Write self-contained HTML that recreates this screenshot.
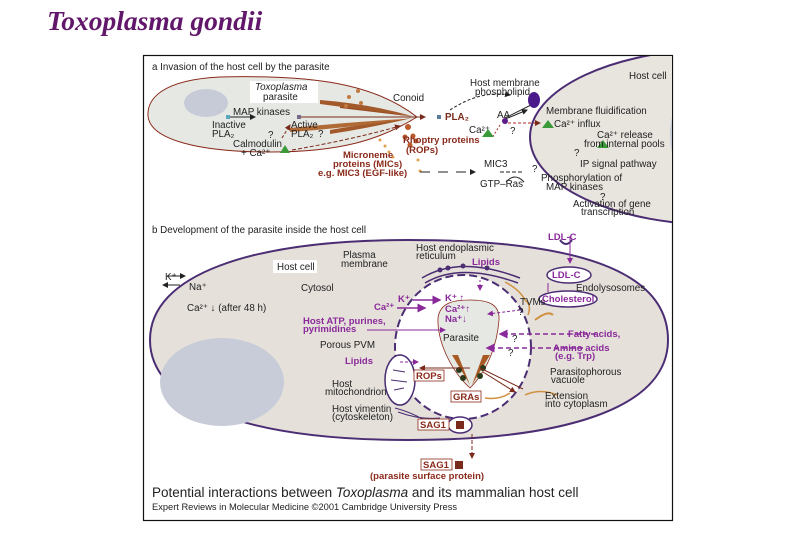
<!DOCTYPE html>
<html><head><meta charset="utf-8"><style>
html,body{margin:0;padding:0;background:#fff;}
svg{display:block;}
text{font-family:"Liberation Sans",sans-serif;}
</style></head><body>
<svg width="810" height="540" viewBox="0 0 810 540" xmlns="http://www.w3.org/2000/svg">
<defs>
<marker id="ab" markerWidth="6" markerHeight="6" refX="5" refY="3" orient="auto"><path d="M0,0L6,3L0,6z" fill="#222"/></marker>
<marker id="ar" markerWidth="6" markerHeight="6" refX="5" refY="3" orient="auto"><path d="M0,0L6,3L0,6z" fill="#7a2a1a"/></marker>
<marker id="ap" markerWidth="6" markerHeight="6" refX="5" refY="3" orient="auto"><path d="M0,0L6,3L0,6z" fill="#8a2a9a"/></marker>
<clipPath id="fc"><rect x="144" y="56" width="528" height="464"/></clipPath>
</defs>
<text x="47" y="30" font-style="italic" font-weight="bold" font-size="27.5" fill="#62186a" style="font-family:'Liberation Serif',serif">Toxoplasma gondii</text>
<rect x="143.5" y="55.5" width="529" height="465" fill="#fff" stroke="#111" stroke-width="1.2"/>
<g clip-path="url(#fc)">
<ellipse cx="720" cy="137" rx="190" ry="88" fill="#e8e4de" stroke="#4b2d73" stroke-width="2"/>
<ellipse cx="690" cy="135" rx="20" ry="40" fill="#c7cbd6"/>
<path d="M417,117 C370,80 300,75 220,77 C160,80 147,100 148,116 C150,140 200,152 270,152 C340,152 380,140 417,117Z" fill="#e6e8e4" stroke="#8a2a1a" stroke-width="1"/>
<ellipse cx="206" cy="103" rx="22" ry="14" fill="#c7cbd8"/>
<path d="M340,104 L415,117 L340,108Z" fill="#9a4a20"/>
<path d="M320,100 Q370,104 412,116 Q365,110 320,104Z" fill="#a25a2a"/>
<path d="M330,130 Q370,123 412,118 Q370,128 330,134Z" fill="#a25a2a"/>
<path d="M290,128 Q350,122 405,119 Q350,128 290,132Z" fill="#b06a35"/>
<g fill="#c07a40"><circle cx="349" cy="97" r="2"/><circle cx="358" cy="91" r="2"/><circle cx="346" cy="106" r="2"/><circle cx="361" cy="103" r="2"/></g>
<g fill="#b85a2a"><circle cx="408" cy="127" r="3"/><circle cx="405" cy="137" r="2.5"/><circle cx="413" cy="136" r="2.5"/><circle cx="410" cy="145" r="2.5"/><circle cx="416" cy="141" r="2.5"/></g>
<g fill="#e0a050"><circle cx="380" cy="140" r="1.5"/><circle cx="385" cy="146" r="1.5"/><circle cx="389" cy="152" r="1.5"/><circle cx="393" cy="157" r="1.5"/><circle cx="418" cy="160" r="1.5"/><circle cx="420" cy="171" r="1.5"/></g>
<line x1="228" y1="117" x2="255" y2="117" stroke="#222" marker-end="url(#ab)"/>
<line x1="300" y1="117" x2="425" y2="117" stroke="#7a2a1a" marker-end="url(#ar)"/>
<rect x="226" y="115" width="4" height="4" fill="#5aa8c0"/>
<rect x="297" y="115" width="4" height="4" fill="#7a6a8a"/>
<rect x="437" y="115" width="4" height="4" fill="#5a7a9a"/>
<path d="M282,138 L290,125" stroke="#7a2a1a" stroke-dasharray="3,2" fill="none" marker-end="url(#ar)"/>
<path d="M292,150 Q350,140 400,126" stroke="#7a2a1a" stroke-dasharray="4,2" fill="none" marker-end="url(#ar)"/>
<polygon points="280,153 285,145 290,153" fill="#3a9a3a"/>
<path d="M450,110 Q480,90 510,95" stroke="#222" stroke-dasharray="3,2" fill="none" marker-end="url(#ab)"/>
<path d="M503,120 L527,110" stroke="#222" marker-end="url(#ab)"/>
<path d="M505,118 L535,103" stroke="#222"/>
<ellipse cx="534" cy="100" rx="6" ry="8" fill="#4a1a8a"/>
<circle cx="505" cy="121" r="3" fill="#5a1a8a"/>
<path d="M508,123 L540,123" stroke="#b02a2a" stroke-dasharray="3,2" marker-end="url(#ar)"/>
<path d="M500,125 L492,138" stroke="#b02a2a" stroke-dasharray="2,2"/>
<polygon points="482,137 488,129 494,137" fill="#3a9a3a"/>
<polygon points="542,128 548,120 554,128" fill="#3a9a3a"/>
<polygon points="597,148 603,140 609,148" fill="#3a9a3a"/>
<line x1="420" y1="172" x2="475" y2="172" stroke="#222" stroke-dasharray="10,8" marker-end="url(#ab)"/>
<line x1="500" y1="172" x2="524" y2="172" stroke="#222" stroke-dasharray="4,2"/>
<path d="M506,182 Q515,172 524,182" stroke="#222" fill="none"/>
<g font-size="9.8" fill="#222">
<text x="152" y="70">a  Invasion of the host cell by the parasite</text>
<rect x="250" y="81" width="68" height="22" fill="#fff"/>
<text x="255" y="90" font-style="italic">Toxoplasma</text>
<text x="263" y="100">parasite</text>
<text x="393" y="101">Conoid</text>
<text x="233" y="115">MAP kinases</text>
<text x="212" y="128">Inactive</text>
<text x="212" y="137">PLA₂</text>
<text x="291" y="128">Active</text>
<text x="291" y="137">PLA₂</text>
<text x="268" y="138">?</text>
<text x="318" y="137">?</text>
<text x="233" y="147">Calmodulin</text>
<text x="241" y="156">+ Ca²⁺</text>
<text x="445" y="120" fill="#7a2a1a" font-weight="bold">PLA₂</text>
<text x="470" y="86">Host membrane</text>
<text x="475" y="95">phospholipid</text>
<text x="497" y="118">AA</text>
<text x="469" y="133">Ca²⁺</text>
<text x="510" y="134">?</text>
<text x="629" y="79">Host cell</text>
<text x="546" y="114">Membrane fluidification</text>
<text x="554" y="127">Ca²⁺ influx</text>
<text x="597" y="138">Ca²⁺ release</text>
<text x="584" y="147">from internal pools</text>
<text x="574" y="156">?</text>
<text x="580" y="167">IP signal pathway</text>
<text x="484" y="167">MIC3</text>
<text x="532" y="172">?</text>
<text x="480" y="187">GTP–Ras</text>
<text x="541" y="181">Phosphorylation of</text>
<text x="546" y="190">MAP kinases</text>
<text x="600" y="200">?</text>
<text x="573" y="207">Activation of gene</text>
<text x="581" y="215">transcription</text>
</g>
<g font-size="9.5" fill="#8a2a1a" font-weight="bold">
<text x="403" y="143">Rhoptry proteins</text>
<text x="406" y="153">(ROPs)</text>
<text x="343" y="158">Microneme</text>
<text x="333" y="167">proteins (MICs)</text>
<text x="318" y="176">e.g. MIC3 (EGF-like)</text>
</g>
<text x="152" y="233" font-size="9.8" fill="#222">b  Development of the parasite inside the host cell</text>
<path d="M408,240 C600,240 668,280 668,340 C668,410 560,440 408,440 C250,440 150,405 150,340 C150,275 250,240 408,240Z" fill="#e5e0da" stroke="#4b2d73" stroke-width="2"/>
<ellipse cx="222" cy="382" rx="62" ry="44" fill="#c8ccd8"/>
<ellipse cx="463" cy="347" rx="68" ry="72" fill="#fff" stroke="#4b2d73" stroke-width="2" stroke-dasharray="8,4"/>
<path d="M470,388 C450,370 437,340 438,318 C440,302 455,300 470,300 C488,300 500,304 499,320 C497,345 488,370 470,388Z" fill="#e6e8e4" stroke="#8a2a1a" stroke-width="0.8"/>
<path d="M452,355 L470,385 L458,355Z" fill="#a85a25"/>
<path d="M490,355 L472,385 L483,355Z" fill="#a85a25"/>
<g fill="#2a3a1a"><circle cx="459" cy="370" r="3"/><circle cx="463" cy="378" r="3"/><circle cx="483" cy="368" r="3"/><circle cx="480" cy="376" r="3"/></g>
<path d="M422,278 Q460,255 520,278" stroke="#4b2d73" stroke-width="1.5" fill="none"/>
<path d="M425,283 Q460,262 518,283" stroke="#4b2d73" stroke-width="1.5" fill="none"/>
<g fill="#4b2d73"><circle cx="440" cy="270" r="2.5"/><circle cx="448" cy="268" r="2.5"/><circle cx="463" cy="266" r="2.5"/><circle cx="487" cy="268" r="2.5"/></g>
<path d="M505,282 Q520,290 525,300 Q532,305 528,315" stroke="#d09040" stroke-width="1.5" fill="none"/>
<path d="M535,320 Q548,310 553,315" stroke="#d09040" stroke-width="2" fill="none"/>
<path d="M525,395 Q540,388 557,395" stroke="#d09040" stroke-width="1.5" fill="none"/>
<path d="M485,398 Q500,400 510,393" stroke="#d09040" stroke-width="1.5" fill="none"/>
<ellipse cx="400" cy="380" rx="15" ry="25" fill="#fff" stroke="#4b2d73" stroke-width="1.5"/>
<path d="M393,370 L405,372 M391,380 L407,382 M394,390 L404,388" stroke="#4b2d73"/>
<path d="M395,408 Q420,415 430,425 M398,412 Q420,420 440,418" stroke="#4b2d73" fill="none"/>
<path d="M560,240 Q566,248 572,240" fill="#fff" stroke="#4b2d73" stroke-width="2"/>
<line x1="570" y1="236" x2="570" y2="263" stroke="#8a2a9a" marker-end="url(#ap)"/>
<ellipse cx="569" cy="275" rx="22" ry="8" fill="#fff" stroke="#4b2d73" stroke-width="1.5"/>
<line x1="548" y1="283" x2="548" y2="292" stroke="#8a2a9a"/>
<ellipse cx="568" cy="299" rx="29" ry="8" fill="#fff" stroke="#4b2d73" stroke-width="1.5"/>
<line x1="413" y1="300" x2="440" y2="300" stroke="#8a2a9a" stroke-width="1.5" marker-end="url(#ap)"/>
<line x1="397" y1="308" x2="425" y2="308" stroke="#8a2a9a" stroke-width="1.5" marker-end="url(#ap)"/>
<line x1="367" y1="330" x2="445" y2="330" stroke="#8a2a9a" marker-end="url(#ap)"/>
<line x1="520" y1="310" x2="488" y2="314" stroke="#8a2a9a" stroke-dasharray="3,2" marker-end="url(#ap)"/>
<line x1="596" y1="334" x2="500" y2="334" stroke="#8a2a9a" stroke-dasharray="5,3" stroke-width="1.5" marker-end="url(#ap)"/>
<line x1="583" y1="348" x2="487" y2="348" stroke="#8a2a9a" stroke-dasharray="5,3" stroke-width="1.5" marker-end="url(#ap)"/>
<line x1="400" y1="362" x2="418" y2="362" stroke="#8a2a9a" stroke-dasharray="3,2" marker-end="url(#ap)"/>
<line x1="480" y1="280" x2="480" y2="290" stroke="#8a2a9a" stroke-dasharray="2,2" marker-end="url(#ap)"/>
<line x1="470" y1="368" x2="420" y2="368" stroke="#7a2a1a" marker-end="url(#ar)"/>
<line x1="483" y1="372" x2="515" y2="392" stroke="#7a2a1a" marker-end="url(#ar)"/>
<line x1="480" y1="368" x2="523" y2="389" stroke="#7a2a1a"/>
<line x1="472" y1="434" x2="472" y2="458" stroke="#7a2a1a" stroke-dasharray="4,2" marker-end="url(#ar)"/>
<ellipse cx="460" cy="425" rx="12" ry="8" fill="#fff" stroke="#4b2d73" stroke-width="1.5"/>
<rect x="456" y="421" width="8" height="8" fill="#7a2a1a"/>
<rect x="455" y="461" width="8" height="8" fill="#7a2a1a"/>
<line x1="167" y1="276" x2="185" y2="276" stroke="#222" marker-end="url(#ab)"/>
<line x1="180" y1="285" x2="163" y2="285" stroke="#222" marker-end="url(#ab)"/>
<g font-size="9.8" fill="#222">
<rect x="273" y="260" width="44" height="13" fill="#fff"/>
<text x="277" y="270">Host cell</text>
<text x="343" y="258">Plasma</text>
<text x="341" y="267">membrane</text>
<text x="416" y="251">Host endoplasmic</text>
<text x="416" y="259">reticulum</text>
<text x="165" y="280">K⁺</text>
<text x="189" y="290">Na⁺</text>
<text x="301" y="291">Cytosol</text>
<text x="187" y="311">Ca²⁺ ↓ (after 48 h)</text>
<text x="520" y="305">TVMs</text>
<text x="576" y="291">Endolysosomes</text>
<text x="443" y="341">Parasite</text>
<text x="320" y="348">Porous PVM</text>
<text x="518" y="315">?</text>
<text x="512" y="342">?</text>
<text x="508" y="356">?</text>
<text x="332" y="387">Host</text>
<text x="325" y="395">mitochondrion</text>
<text x="332" y="412">Host vimentin</text>
<text x="332" y="420">(cytoskeleton)</text>
<text x="550" y="375">Parasitophorous</text>
<text x="551" y="383">vacuole</text>
<text x="545" y="399">Extension</text>
<text x="545" y="407">into cytoplasm</text>
</g>
<g font-size="9.5" fill="#8a2a9a" font-weight="bold">
<text x="472" y="265">Lipids</text>
<text x="548" y="240">LDL-C</text>
<text x="552" y="278">LDL-C</text>
<text x="542" y="302">Cholesterol</text>
<text x="398" y="302">K⁺</text>
<text x="374" y="310">Ca²⁺</text>
<text x="445" y="301">K⁺ ↑</text>
<text x="445" y="312">Ca²⁺↑</text>
<text x="445" y="322">Na⁺↓</text>
<text x="303" y="324">Host ATP, purines,</text>
<text x="303" y="332">pyrimidines</text>
<text x="568" y="337">Fatty acids,</text>
<text x="553" y="351">Amino acids</text>
<text x="555" y="359">(e.g. Trp)</text>
<text x="345" y="364">Lipids</text>
</g>
<g font-size="9.5" fill="#8a2a1a" font-weight="bold">
<rect x="414" y="370" width="30" height="11" fill="#fff" stroke="#8a2a1a" stroke-width="0.8"/><text x="416" y="379">ROPs</text>
<rect x="451" y="391" width="30" height="11" fill="#fff" stroke="#8a2a1a" stroke-width="0.8"/><text x="453" y="400">GRAs</text>
<rect x="418" y="419" width="31" height="11" fill="#fff" stroke="#8a2a1a" stroke-width="0.8"/><text x="420" y="428">SAG1</text>
<rect x="421" y="459" width="31" height="11" fill="#fff" stroke="#8a2a1a" stroke-width="0.8"/><text x="423" y="468">SAG1</text>
<text x="370" y="479">(parasite surface protein)</text>
</g>
<text x="152" y="497" font-size="13.5" fill="#222">Potential interactions between <tspan font-style="italic">Toxoplasma</tspan> and its mammalian host cell</text>
<text x="152" y="510" font-size="9.3" fill="#222">Expert Reviews in Molecular Medicine ©2001 Cambridge University Press</text>
</g>
</svg>
</body></html>
